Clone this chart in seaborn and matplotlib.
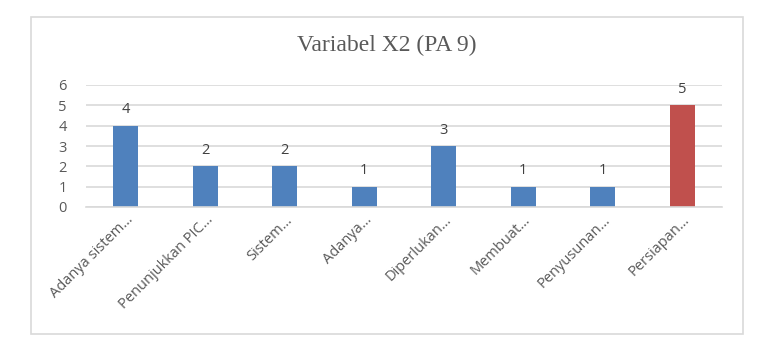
import matplotlib
matplotlib.use("Agg")
import matplotlib.pyplot as plt
import seaborn as sns
import pandas as pd
from matplotlib.patches import Rectangle

# Data
categories = ["Adanya sistem…", "Penunjukkan PIC…", "Sistem…", "Adanya…",
              "Diperlukan…", "Membuat…", "Penyusunan…", "Persiapan…"]
values = [4, 2, 2, 1, 3, 1, 1, 5]
bar_colors = ["#4F81BD"] * 7 + ["#C0504D"]

df = pd.DataFrame({"kategori": categories, "nilai": values})

sns.set_theme(style="white")
plt.rcParams["font.family"] = ["Open Sans", "DejaVu Sans"]

fig = plt.figure(figsize=(7.78, 3.55), dpi=100)
ax = fig.add_axes([86 / 778, 1 - 207 / 355, (722 - 86) / 778, (207 - 85) / 355])

sns.barplot(data=df, x="kategori", y="nilai", hue="kategori", palette=bar_colors,
            legend=False, width=0.31, ax=ax, saturation=1, linewidth=0)

for c in ax.containers:
    ax.bar_label(c, padding=6, fontsize=10.5, color="#404040")

ax.set_ylim(0, 6)
ax.set_xlim(-0.5, 7.5)
ax.set_yticks(range(0, 7))
ax.yaxis.grid(True, color="#D9D9D9", linewidth=1.2)
ax.set_axisbelow(True)
for s in ["top", "right", "left"]:
    ax.spines[s].set_visible(False)
ax.spines["bottom"].set_color("#D9D9D9")
ax.spines["bottom"].set_linewidth(1.2)
ax.set_xlabel("")
ax.set_ylabel("")
ax.tick_params(axis="y", length=0, labelsize=10.5, labelcolor="#595959", pad=14)
ax.tick_params(axis="x", length=0, labelsize=10.5, labelcolor="#595959", pad=4)
ax.set_xticks(range(len(categories)))
ax.set_xticklabels(categories, rotation=45, ha="right", rotation_mode="anchor")

# chart border
fig.patches.append(Rectangle((31 / 778, 1 - 334 / 355), (743 - 31) / 778, (334 - 17) / 355,
                             transform=fig.transFigure, fill=False,
                             edgecolor="#D9D9D9", linewidth=1.2))

fig.text(387 / 778, 1 - 45 / 355, "Variabel X2 (PA 9)", ha="center", va="center",
         fontsize=17, color="#595959", family="Liberation Serif")

fig.savefig("out.png", dpi=100)
